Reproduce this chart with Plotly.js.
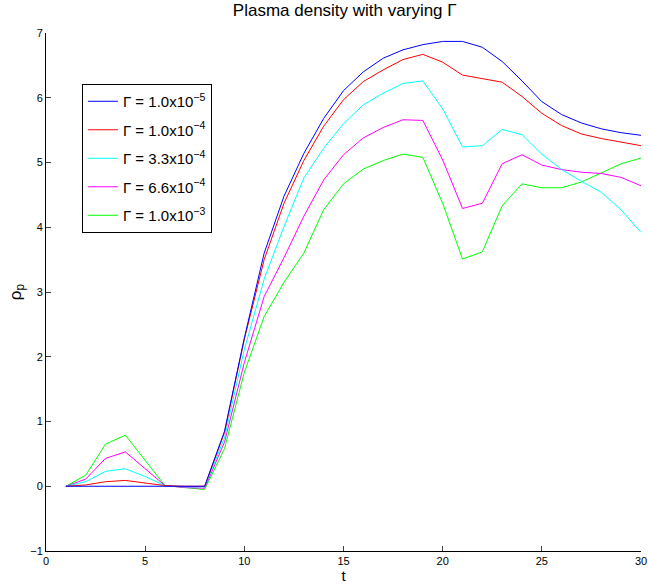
<!DOCTYPE html>
<html>
<head>
<meta charset="utf-8">
<script src="https://cdn.plot.ly/plotly-3.0.1.min.js"></script>
<style>html,body{margin:0;padding:0;background:#fff;}#chart{width:648px;height:584px;}</style>
</head>
<body>
<div id="chart"></div>
<script>
const t = [1,2,3,4,5,6,7,8,9,10,11,12,13,14,15,16,17,18,19,20,21,22,23,24,25,26,27,28,29,30];
const labels = [
  "Γ = 1.0x10<sup>−5</sup>",
  "Γ = 1.0x10<sup>−4</sup>",
  "Γ = 3.3x10<sup>−4</sup>",
  "Γ = 6.6x10<sup>−4</sup>",
  "Γ = 1.0x10<sup>−3</sup>"
];
const rho_g1 = [0,0,0,0,0,0,0,0,0.85,2.29,3.6,4.48,5.14,5.68,6.11,6.40,6.61,6.74,6.82,6.87,6.87,6.78,6.56,6.26,5.94,5.74,5.61,5.52,5.46,5.42];
const rho_g2 = [0,0.02,0.07,0.09,0.05,0.01,0,0,0.83,2.27,3.5,4.37,5.03,5.56,5.97,6.25,6.43,6.59,6.67,6.55,6.35,6.30,6.24,6.02,5.76,5.57,5.44,5.37,5.31,5.26];
const rho_g3 = [0,0.07,0.23,0.27,0.15,0.01,-0.01,-0.01,0.75,2.11,3.2,4.01,4.76,5.22,5.60,5.89,6.07,6.22,6.26,5.83,5.24,5.26,5.51,5.43,5.13,4.89,4.71,4.54,4.27,3.92];
const rho_g4 = [0,0.11,0.43,0.53,0.27,0.01,-0.02,-0.03,0.68,1.91,2.93,3.53,4.17,4.73,5.12,5.38,5.54,5.66,5.65,5.04,4.29,4.37,4.98,5.12,4.96,4.89,4.85,4.83,4.77,4.64];
const rho_g5 = [0,0.17,0.65,0.79,0.40,0.01,-0.02,-0.05,0.58,1.76,2.62,3.15,3.60,4.27,4.67,4.90,5.03,5.13,5.08,4.37,3.51,3.62,4.33,4.67,4.61,4.61,4.70,4.84,4.98,5.07];
const series = [rho_g1, rho_g2, rho_g3, rho_g4, rho_g5];
const colors = ["#0000ff","#ff0000","#00ffff","#ff00ff","#00ff00"];

const traces = [];
for (let i = series.length - 1; i >= 0; i--) {
  traces.push({
    x: t, y: series[i], type: "scatter", mode: "lines",
    name: labels[i], line: {color: colors[i], width: 1},
    legendgroup: "g" + i, legendrank: i + 1
  });
}

const font = {family: "Liberation Sans, Arial, sans-serif", color: "#000"};
const layout = {
  width: 648, height: 584,
  margin: {l: 46, r: 7, t: 33, b: 33, pad: 0},
  paper_bgcolor: "#fff", plot_bgcolor: "#fff",
  font: Object.assign({size: 11}, font),
  showlegend: true,
  title: {text: "Plasma density with varying Γ", font: Object.assign({size: 17}, font),
          x: 0.532, xanchor: "center", y: 0.982, yanchor: "middle", yref: "container"},
  xaxis: {
    range: [0, 30], tickvals: [0,5,10,15,20,25,30], ticks: "inside", ticklen: 5,
    showline: true, linecolor: "#000", linewidth: 1, showgrid: false, zeroline: false,
    tickfont: Object.assign({size: 11}, font), mirror: false,
    title: {text: "t", font: Object.assign({size: 15}, font), standoff: 2}
  },
  yaxis: {
    range: [-1, 7], tickvals: [-1,0,1,2,3,4,5,6,7], ticks: "inside", ticklen: 5,
    showline: true, linecolor: "#000", linewidth: 1, showgrid: false, zeroline: false,
    tickfont: Object.assign({size: 11}, font),
    title: {text: "ρ<sub>p</sub>", font: Object.assign({size: 17}, font), standoff: 4}
  },
  legend: {
    x: 0.0604, y: 0.9015, xanchor: "left", yanchor: "top",
    bgcolor: "#fff", bordercolor: "#000", borderwidth: 1,
    traceorder: "grouped", tracegroupgap: 6,
    font: Object.assign({size: 15}, font)
  }
};
Plotly.newPlot("chart", traces, layout, {displayModeBar: false, staticPlot: true});
</script>
</body>
</html>
